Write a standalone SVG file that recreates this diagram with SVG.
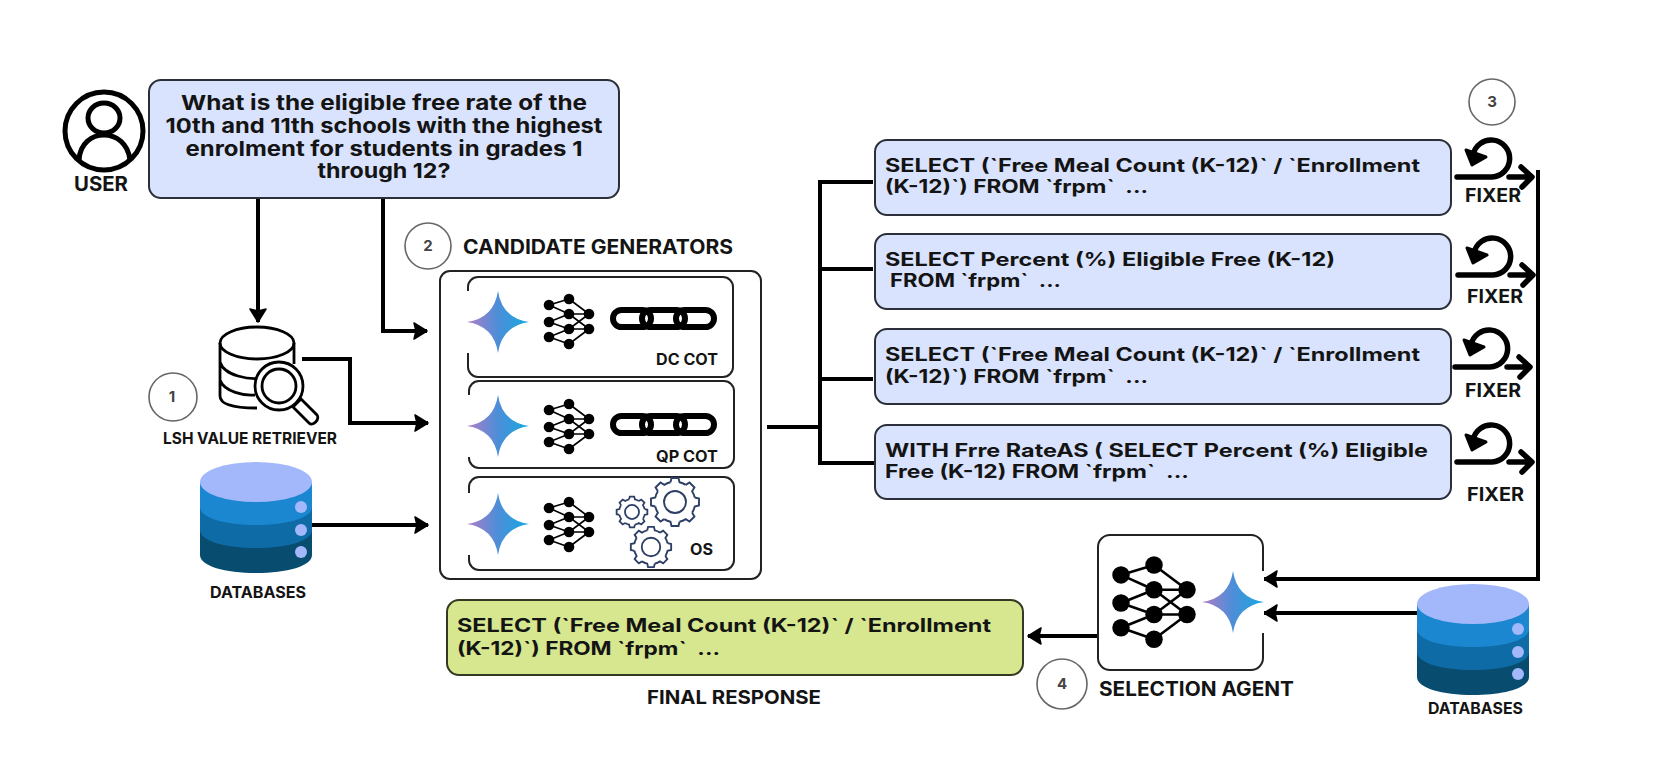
<svg xmlns="http://www.w3.org/2000/svg" xmlns:xlink="http://www.w3.org/1999/xlink" width="1653" height="761" viewBox="0 0 1653 761">
<style>
text{font-family:"Inter","Liberation Sans",sans-serif;font-weight:700;fill:#141414}
.q{font-size:20.5px;text-anchor:middle}
.s{font-size:18.5px}
.f{font-size:19px}
.l{font-size:15.5px}
.h{font-size:19.5px}
.n{font-size:15px;text-anchor:middle;fill:#444}
.box{fill:#d9e3fd;stroke:#2b2f3a;stroke-width:2}
.frame{fill:#fff;stroke:#222;stroke-width:2}
.step{fill:#fff;stroke:#666;stroke-width:1.6}
.conn{fill:none;stroke:#000;stroke-width:4}
.icon{fill:none;stroke:#000}
.link{fill:none;stroke:#000;stroke-width:6}
.gear{fill:none;stroke:#2e3f66}
</style>
<defs>
<marker id="ah" markerUnits="userSpaceOnUse" markerWidth="17" markerHeight="20" refX="15" refY="10" orient="auto"><path d="M2,2 L15,10 L2,18 L4,10Z" fill="#000" stroke="#000" stroke-width="1.5" stroke-linejoin="round"/></marker>
<linearGradient id="sg" x1="0" x2="1" y1="0" y2="0"><stop offset="0" stop-color="#b07cc6"/><stop offset=".5" stop-color="#4c8ed8"/><stop offset="1" stop-color="#17a8e2"/></linearGradient>
<g id="star"><rect x="-31" y="-31" width="62" height="62" fill="#fff"/><path d="M0,-31 Q4,-4 31,0 Q4,4 0,31 Q-4,4 -31,0 Q-4,-4 0,-31Z" fill="url(#sg)"/></g>
<g id="net"><path d="M0,6L20,0M0,6L20,15M0,23L20,15M0,23L20,30M0,38L20,30M0,38L20,45M20,0L40,15M20,15L40,15M20,15L40,30M20,30L40,15M20,30L40,30M20,45L40,30" stroke="#000" stroke-width="1.6" fill="none"/><g fill="#000"><circle cx="0" cy="6" r="5.300"/><circle cx="0" cy="23" r="5.300"/><circle cx="0" cy="38" r="5.300"/><circle cx="20" cy="0" r="5.300"/><circle cx="20" cy="15" r="5.300"/><circle cx="20" cy="30" r="5.300"/><circle cx="20" cy="45" r="5.300"/><circle cx="40" cy="15" r="5.300"/><circle cx="40" cy="30" r="5.300"/></g></g>
<g id="chain"><rect class="link" x="642" y="310" width="43" height="17" rx="8.500"/><rect class="link" x="613" y="310" width="38" height="17" rx="8.500"/><rect class="link" x="676" y="310" width="38" height="17" rx="8.500"/></g>
<path id="tooth" d="M-4.5,-19.7 L-3.5,-24 H3.5 L4.5,-19.7 A20.2,20.2 0 0 1 10.75,-17.11"/>
<g id="gear"><use href="#tooth"/><use href="#tooth" transform="rotate(45)"/><use href="#tooth" transform="rotate(90)"/><use href="#tooth" transform="rotate(135)"/><use href="#tooth" transform="rotate(180)"/><use href="#tooth" transform="rotate(225)"/><use href="#tooth" transform="rotate(270)"/><use href="#tooth" transform="rotate(315)"/><circle r="11"/></g>
<g id="db">
<path d="M-56,0 V73 C-56,84 -31,91 0,91 C31,91 56,84 56,73 V0Z" fill="#084c70"/>
<path d="M-56,0 V48 C-56,59 -31,66 0,66 C31,66 56,59 56,48 V0Z" fill="#0f6ba5"/>
<path d="M-56,0 V25 C-56,36 -31,43 0,43 C31,43 56,36 56,25 V0Z" fill="#1b87d1"/>
<ellipse cx="0" cy="0" rx="56" ry="20" fill="#a3b8fa"/>
<circle cx="45" cy="25" r="6" fill="#a3b8fa"/><circle cx="45" cy="48" r="6" fill="#a3b8fa"/><circle cx="45" cy="70" r="6" fill="#a3b8fa"/>
</g>
<g id="fixer">
<path class="icon" stroke-width="5.5" stroke-linecap="round" d="M1457,177 H1492 A18.500,18.500 0 1 0 1473,155"/>
<path d="M1466,150 L1472,165 L1486,157Z" fill="#000" stroke="#000" stroke-width="3" stroke-linejoin="round"/>
<path class="icon" stroke-width="5.5" stroke-linecap="round" stroke-linejoin="round" d="M1509,177 H1531 M1521,167 L1532,177 L1522,187"/>
</g>
</defs>

<g id="connectors">
<path class="conn" d="M258,195 V322" marker-end="url(#ah)"/>
<path class="conn" d="M383,198 V331 H427" marker-end="url(#ah)"/>
<path class="conn" d="M302,359 H350 V423 H428" marker-end="url(#ah)"/>
<path class="conn" d="M312,525 H428" marker-end="url(#ah)"/>
<path class="conn" d="M767,427 H820 M873,182 H820 V463 H875 M820,269 H873 M820,379 H873"/>
<path class="conn" d="M1538,170 V579 H1264" marker-end="url(#ah)"/>
<path class="conn" d="M1418,613 H1264" marker-end="url(#ah)"/>
<path class="conn" d="M1098,636 H1028" marker-end="url(#ah)"/>
</g>

<g id="user">
<circle cx="104" cy="131" r="39" fill="#fff" stroke="#000" stroke-width="5"/>
<ellipse cx="104" cy="118" rx="16" ry="15" fill="none" stroke="#000" stroke-width="5"/>
<path d="M79,160 C80,143 92,135 104,135 C116,135 128,143 130,160" fill="none" stroke="#000" stroke-width="5"/>
<text class="h" x="74" y="191" textLength="54" lengthAdjust="spacingAndGlyphs">USER</text>
</g>

<g id="question">
<rect class="box" x="149" y="80" width="470" height="118" rx="12"/>
<text class="q" x="384" y="110" textLength="406" lengthAdjust="spacingAndGlyphs">What is the eligible free rate of the</text>
<text class="q" x="384" y="133" textLength="437" lengthAdjust="spacingAndGlyphs">10th and 11th schools with the highest</text>
<text class="q" x="384" y="156" textLength="397" lengthAdjust="spacingAndGlyphs">enrolment for students in grades 1</text>
<text class="q" x="384" y="178" textLength="133" lengthAdjust="spacingAndGlyphs">through 12?</text>
</g>

<g id="lsh-retriever">
<path class="icon" stroke-width="2.8" d="M220,343 V396 C220,405 235,408 257,408 M294,343 V364 M220,362 C224,376 250,380 262,378 M220,380 C224,392 245,396 255,395"/>
<ellipse class="icon" stroke-width="2.8" cx="257" cy="343" rx="37" ry="16"/>
<circle cx="279" cy="386" r="24" fill="#fff" stroke="#000" stroke-width="2.8"/>
<circle cx="279" cy="386" r="17" fill="#fff" stroke="#000" stroke-width="2.8"/>
<path class="icon" stroke-width="2.8" d="M297,403 L301,399 L317,415 C320,419 313,427 309,423 L293,407Z"/>
<circle class="step" cx="173" cy="397" r="24"/><text class="n" x="172" y="402">1</text>
<text class="l" x="163" y="444" textLength="174" lengthAdjust="spacingAndGlyphs">LSH VALUE RETRIEVER</text>
</g>

<g id="databases-1">
<use href="#db" x="256" y="482"/>
<text class="l" x="210" y="598" textLength="96" lengthAdjust="spacingAndGlyphs">DATABASES</text>
</g>

<g id="candidate-generators">
<circle class="step" cx="428" cy="246" r="23"/><text class="n" x="428" y="251">2</text>
<text class="h" x="463" y="254" textLength="270" lengthAdjust="spacingAndGlyphs">CANDIDATE GENERATORS</text>
<rect class="frame" x="440" y="271" width="321" height="308" rx="10"/>
</g>

<g id="dc-cot">
<rect class="frame" x="468" y="277" width="265" height="100" rx="10"/>
<use href="#star" x="498" y="322"/>
<use href="#net" x="549" y="299"/>
<use href="#chain"/>
<text class="l" x="656" y="365" textLength="62" lengthAdjust="spacingAndGlyphs">DC COT</text>
</g>

<g id="qp-cot">
<rect class="frame" x="469" y="381" width="265" height="87" rx="10"/>
<use href="#star" x="498" y="426"/>
<use href="#net" x="549" y="404"/>
<use href="#chain" y="106"/>
<text class="l" x="656" y="462" textLength="62" lengthAdjust="spacingAndGlyphs">QP COT</text>
</g>

<g id="os">
<rect class="frame" x="469" y="477" width="265" height="93" rx="10"/>
<use href="#star" x="498" y="524"/>
<use href="#net" x="549" y="502"/>
<use href="#gear" class="gear" transform="translate(675 502)" stroke-width="1.9"/>
<use href="#gear" class="gear" transform="translate(632 512) scale(.64)" stroke-width="2.8"/>
<use href="#gear" class="gear" transform="translate(651 547) scale(.84)" stroke-width="2.2"/>
<text class="l" x="690" y="555" textLength="23" lengthAdjust="spacingAndGlyphs">OS</text>
</g>

<g id="candidate-1">
<rect class="box" x="875" y="140" width="576" height="75" rx="12"/>
<text class="s" x="885" y="172" textLength="535" lengthAdjust="spacingAndGlyphs">SELECT (`Free Meal Count (K-12)` / `Enrollment</text>
<text class="s" x="885" y="193" textLength="263" lengthAdjust="spacingAndGlyphs" xml:space="preserve">(K-12)`) FROM `frpm`  ...</text>
</g>
<g id="candidate-2">
<rect class="box" x="875" y="234" width="576" height="75" rx="12"/>
<text class="s" x="885" y="266" textLength="450" lengthAdjust="spacingAndGlyphs">SELECT Percent (%) Eligible Free (K-12)</text>
<text class="s" x="890" y="287" textLength="171" lengthAdjust="spacingAndGlyphs" xml:space="preserve">FROM `frpm`  ...</text>
</g>
<g id="candidate-3">
<rect class="box" x="875" y="329" width="576" height="75" rx="12"/>
<text class="s" x="885" y="361" textLength="535" lengthAdjust="spacingAndGlyphs">SELECT (`Free Meal Count (K-12)` / `Enrollment</text>
<text class="s" x="885" y="383" textLength="263" lengthAdjust="spacingAndGlyphs" xml:space="preserve">(K-12)`) FROM `frpm`  ...</text>
</g>
<g id="candidate-4">
<rect class="box" x="875" y="425" width="576" height="74" rx="12"/>
<text class="s" x="885" y="457" textLength="543" lengthAdjust="spacingAndGlyphs">WITH Frre RateAS ( SELECT Percent (%) Eligible</text>
<text class="s" x="885" y="478" textLength="304" lengthAdjust="spacingAndGlyphs" xml:space="preserve">Free (K-12) FROM `frpm`  ...</text>
</g>

<g id="fixer-1"><circle class="step" cx="1492" cy="102" r="23"/><text class="n" x="1492" y="107">3</text><use href="#fixer"/><text class="f" x="1465" y="202" textLength="56" lengthAdjust="spacingAndGlyphs">FIXER</text></g>
<g id="fixer-2"><use href="#fixer" x="1" y="98"/><text class="f" x="1467" y="303" textLength="56" lengthAdjust="spacingAndGlyphs">FIXER</text></g>
<g id="fixer-3"><use href="#fixer" x="-2" y="190"/><text class="f" x="1465" y="397" textLength="56" lengthAdjust="spacingAndGlyphs">FIXER</text></g>
<g id="fixer-4"><use href="#fixer" y="285"/><text class="f" x="1467" y="501" textLength="57" lengthAdjust="spacingAndGlyphs">FIXER</text></g>

<g id="selection-agent">
<rect class="frame" x="1098" y="535" width="165" height="135" rx="12"/>
<use href="#star" x="1233" y="602"/>
<use href="#net" transform="translate(1121 565) scale(1.65)"/>
<circle class="step" cx="1062" cy="684" r="25"/><text class="n" x="1062" y="689">4</text>
<text class="h" x="1099" y="696" textLength="195" lengthAdjust="spacingAndGlyphs">SELECTION AGENT</text>
</g>

<g id="databases-2">
<use href="#db" x="1473" y="604"/>
<text class="l" x="1428" y="714" textLength="95" lengthAdjust="spacingAndGlyphs">DATABASES</text>
</g>

<g id="final-response">
<rect x="447" y="600" width="576" height="75" rx="12" fill="#d6e78f" stroke="#333a22" stroke-width="2"/>
<text class="s" x="457" y="632" textLength="534" lengthAdjust="spacingAndGlyphs">SELECT (`Free Meal Count (K-12)` / `Enrollment</text>
<text class="s" x="457" y="655" textLength="263" lengthAdjust="spacingAndGlyphs" xml:space="preserve">(K-12)`) FROM `frpm`  ...</text>
<text class="f" x="647" y="704" textLength="174" lengthAdjust="spacingAndGlyphs">FINAL RESPONSE</text>
</g>
</svg>
